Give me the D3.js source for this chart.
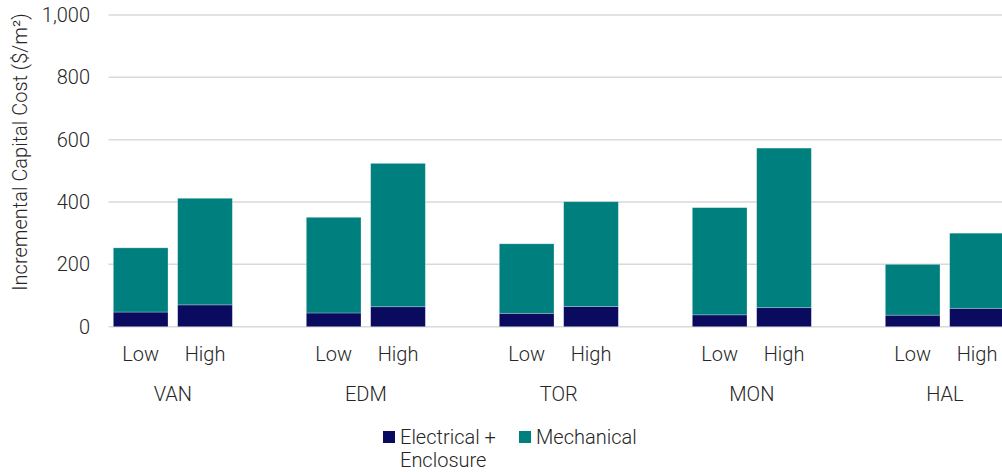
<!DOCTYPE html>
<html>
<head>
<meta charset="utf-8">
<script src="https://cdn.jsdelivr.net/npm/d3@7"></script>
<style>
  html, body { margin: 0; padding: 0; background: #fff; }
  svg text { font-family: "Roboto", "Liberation Sans", Arial, sans-serif; font-weight: 300; fill: #262626; }
</style>
</head>
<body>
<svg id="chart" width="1002" height="472"></svg>
<script>
// Incremental capital cost by city and scenario ($/m²)
const cities = ["VAN", "EDM", "TOR", "MON", "HAL"];
const scenarios = ["Low", "High"];
const electrical = [47, 70, 44, 64, 43, 65, 38, 61, 37, 59];
const mechanical = [206, 342, 307, 460, 223, 336, 344, 512, 163, 241];
const yTicks = [0, 200, 400, 600, 800, 1000];
const seriesNames = ["Electrical +\nEnclosure", "Mechanical"];
const seriesColors = ["#0a0a5f", "#007f7f"];

const rows = [];
cities.forEach((c, i) => scenarios.forEach((s, j) => {
  const k = i * 2 + j;
  rows.push({ city: c, scenario: s, elec: electrical[k], mech: mechanical[k] });
}));

const svg = d3.select("#chart");
const plotLeft = 108.5, groupStep = 193, plotTop = 15, plotBottom = 326.7;
const plotRight = plotLeft + groupStep * cities.length;
const fs = 20;

const x0 = d3.scaleBand().domain(cities).range([plotLeft, plotRight]).padding(0);
const slot = groupStep / 3;
const x1 = d3.scaleBand().domain(scenarios).range([0, slot * 2]).paddingInner(0.15).paddingOuter(0.075);
const y = d3.scaleLinear().domain([0, 1000]).range([plotBottom, plotTop]);

// gridlines
svg.append("g").selectAll("line").data(yTicks).join("line")
  .attr("x1", plotLeft).attr("x2", 1002)
  .attr("y1", d => y(d)).attr("y2", d => y(d))
  .attr("stroke", "#d9d9d9").attr("stroke-width", 1.5);

// y axis labels
const yAxis = d3.axisLeft(y).tickValues(yTicks).tickSize(0).tickPadding(0)
  .tickFormat(d3.format(","));
svg.append("g").attr("transform", "translate(90,0)").call(yAxis)
  .call(g => g.select(".domain").remove())
  .selectAll("text").attr("font-size", fs).attr("font-family", null).attr("fill", null);

// y axis title
svg.append("text")
  .attr("transform", "translate(27,152) rotate(-90)")
  .attr("text-anchor", "middle").attr("font-size", fs)
  .text("Incremental Capital Cost ($/m²)");

// stacked bars
const stack = d3.stack().keys(["elec", "mech"]);
const stacked = stack(rows);
svg.append("g").selectAll("g").data(stacked).join("g")
  .attr("fill", (d, i) => seriesColors[i])
  .selectAll("rect").data(d => d).join("rect")
  .attr("x", d => x0(d.data.city) + x1(d.data.scenario))
  .attr("width", x1.bandwidth())
  .attr("y", d => y(d[1]))
  .attr("height", d => y(d[0]) - y(d[1]))
  .attr("stroke", "rgba(255,255,255,0.35)").attr("stroke-width", 0.75);

// category labels
const catG = svg.append("g");
rows.forEach(r => {
  catG.append("text")
    .attr("x", x0(r.city) + x1(r.scenario) + x1.bandwidth() / 2)
    .attr("y", 361).attr("text-anchor", "middle").attr("font-size", fs)
    .text(r.scenario);
});
cities.forEach(c => {
  catG.append("text")
    .attr("x", x0(c) + slot).attr("y", 401)
    .attr("text-anchor", "middle").attr("font-size", fs)
    .text(c);
});

// legend
const legend = svg.append("g");
const legendX = [383, 519];
seriesNames.forEach((name, i) => {
  legend.append("rect").attr("x", legendX[i]).attr("y", 431)
    .attr("width", 12).attr("height", 12).attr("fill", seriesColors[i]);
  const t = legend.append("text").attr("x", legendX[i] + 17).attr("y", 444).attr("font-size", fs);
  name.split("\n").forEach((line, li) => {
    t.append("tspan").attr("x", legendX[i] + 17).attr("dy", li === 0 ? 0 : 23).text(line);
  });
});
</script>
</body>
</html>
